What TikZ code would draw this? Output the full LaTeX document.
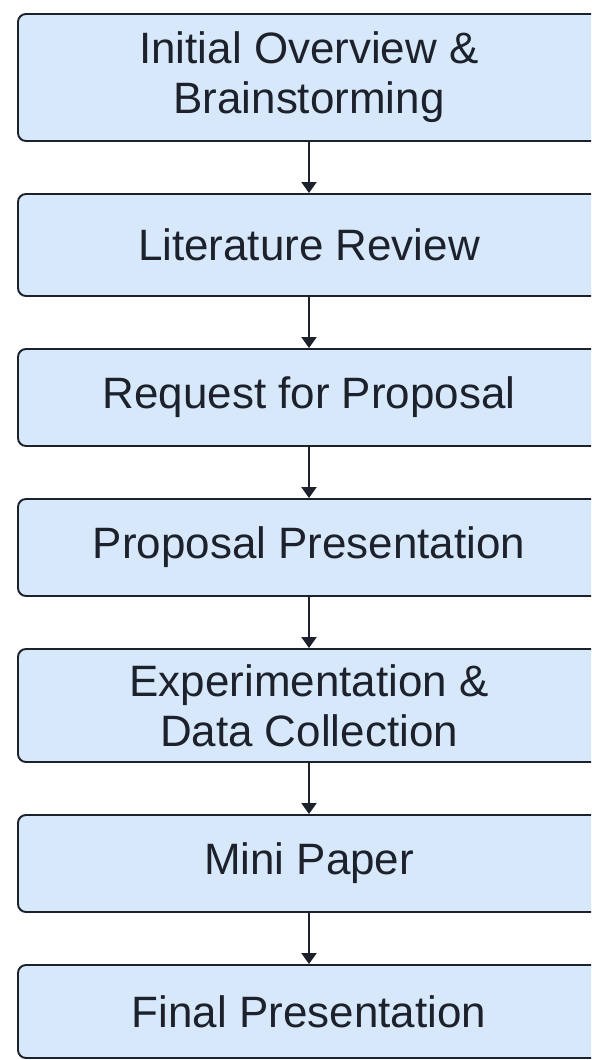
\documentclass[tikz,border=0pt]{standalone}
\usepackage{fontspec}
\setmainfont{Liberation Sans}
\usetikzlibrary{arrows.meta}
\definecolor{stagefill}{RGB}{214,232,250}
\definecolor{stageline}{RGB}{28,33,44}
\begin{document}
\begin{tikzpicture}[
    stage/.style = {draw=stageline, line width=1.1pt, fill=stagefill, rounded corners=0.16cm,
                    minimum width=11.64cm, align=center, inner sep=0pt,
                    font=\fontsize{25}{28.35}\selectfont, text=stageline},
    flow/.style = {draw=stageline, line width=1.2pt, -{Triangle[width=0.3cm,length=0.22cm]}}
  ]
  \clip (0,0) rectangle (11.82,-21.2);
  % Nodes with manual coordinates
  \node[stage, minimum height=2.54cm] (overview) at (6.18,-1.55) {Initial Overview \&\\Brainstorming};
  \node[stage, minimum height=2.04cm] (litreview) at (6.18,-4.9) {Literature Review};
  \node[stage, minimum height=1.94cm] (rfp) at (6.18,-7.95) {Request for Proposal};
  \node[stage, minimum height=1.94cm] (proposal) at (6.18,-10.95) {Proposal Presentation};
  \node[stage, minimum height=2.26cm] (experiment) at (6.18,-14.11) {Experimentation \&\\Data Collection};
  \node[stage, minimum height=1.94cm] (paper) at (6.18,-17.27) {Mini Paper};
  \node[stage, minimum height=1.86cm] (final) at (6.18,-20.23) {Final Presentation};

  % Edges
  \draw[flow] (overview) -- (litreview);
  \draw[flow] (litreview) -- (rfp);
  \draw[flow] (rfp) -- (proposal);
  \draw[flow] (proposal) -- (experiment);
  \draw[flow] (experiment) -- (paper);
  \draw[flow] (paper) -- (final);
\end{tikzpicture}
\end{document}
